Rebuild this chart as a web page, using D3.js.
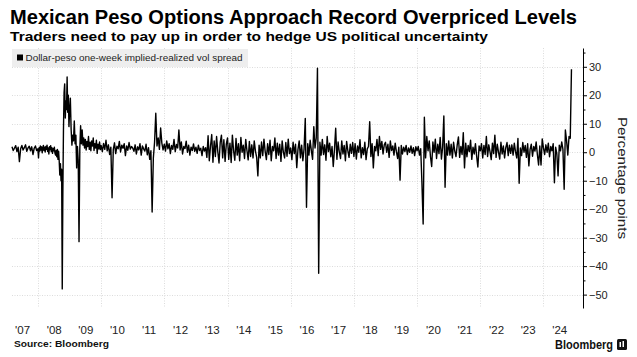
<!DOCTYPE html>
<html><head><meta charset="utf-8">
<script src="https://cdn.jsdelivr.net/npm/d3@7"></script>
<style>
html,body{margin:0;padding:0;background:#fff;}
svg{display:block;}
</style></head><body>
<svg id="chart" width="637" height="357"></svg>
<script>
// ---------------- text ----------------
const titleText = "Mexican Peso Options Approach Record Overpriced Levels";
const subtitleText = "Traders need to pay up in order to hedge US political uncertainty";
const seriesName = "Dollar-peso one-week implied-realized vol spread";
const yAxisTitle = "Percentage points";
const sourceText = "Source: Bloomberg";
const brandText = "Bloomberg";

// ---------------- axes ----------------
const labelYears = [2007,2008,2009,2010,2011,2012,2013,2014,2015,2016,2017,2018,2019,2020,2021,2022,2023,2024];
const yearLabels = ["'07","'08","'09","'10","'11","'12","'13","'14","'15","'16","'17","'18","'19","'20","'21","'22","'23","'24"];
const gridYears = [2008,2010,2012,2014,2016,2018,2020,2022,2024];
const yTicks = [30,20,10,0,-10,-20,-30,-40,-50];
const yMinorTicks = [35,25,15,5,-5,-15,-25,-35,-45];
const xDomainYears = [2007.18, 2025.25];
const yDomain = [-54.7, 36.6];
const firstObs = 2007.18, lastObs = 2024.885;

// ---------------- series values (percentage points), per year ----------------
const v2007 = [1.9,0.6,1.4,2.3,0.2,1.8,-3.3,1.2,2.4,0.8,1.6,2.6,0.3,1.5,2.1,0.5,1.9,-0.8,1.4,2.2,0.6];
const v2008 = [1.2,-2.0,1.6,0.4,2.2,0.8,1.9,-0.2,1.4,2.4,0.6,1.8,0.1,2.0,1.0,2.5,0.3,1.5,-0.6,1.9,0.9,2.3,0.2,1.6,-0.4,1.2,0.5,1.8,-0.3,
  -1.0,0.6,-1.6,1.0,-2.5,0.4,-3.0,-8.0,-4.0,-10.0,-6.0,-48.0,-14.0,8.0,21.0,24.0,12.0,18.0,15.0,26.4,14.0,20.0,9.0];
const v2009 = [14,19,8,2.5,6,4,11,3,6,-5.5,2,-3,-31.4,1,9.3,3,7.8,2.5,5,1.5,4.5,0.8,3.8,2,5.5,1,3.5,0.5,4,2.2,5,0.6,3,1.5,4.2,-0.4,2.8,1.2,3.6,0.9];
const v2010 = [2.4,0.2,3.1,1.0,4.2,0.5,2.6,-0.8,1.8,-16,0.9,3.3,-0.5,2.1,1.2,3.8,0.1,2.5,1.4,3.0,-1.2,2.2,0.7,3.4,1.1,2.0];
const v2011 = [1.5,0.3,2.6,-0.6,1.9,0.8,3.0,-1.0,2.2,1.2,0.4,2.8,-0.9,1.6,-2.5,0.5,-21,-2.0,3.5,13.7,2.2,5.0,1.0,8.5,3.2,0.8];
const v2012 = [2.8,0.4,4.0,1.2,3.0,-0.5,2.4,1.0,4.5,0.2,2.7,1.5,7.8,0.8,3.6,-0.6,2.0,1.3,3.9,0.0,2.5,-1.0,1.8,0.6,2.9,0.3];
const v2013 = [1.8,-0.4,2.5,0.6,1.4,-1.2,2.0,0.4,1.6,-1.8,5.8,-3.0,2.2,6.2,-3.5,4.0,-1.5,5.5,0.2,-3.8,3.5,6.0,-2.0,4.4,-3.2,2.8];
const v2014 = [5.0,-2.5,3.2,-3.6,6.0,0.5,-2.8,4.8,-1.0,3.0,-3.0,5.2,0.0,2.5,-2.2,4.5,0.6,-2.7,3.8,-1.5,2.6,-2.0,4.0,0.4,-1.8,-8.3];
const v2015 = [2.5,-2.0,3.6,-1.2,4.6,0.3,-2.6,3.0,-0.8,4.2,-3.0,2.0,0.5,5.0,-2.2,3.2,-1.0,2.8,-3.2,4.0,0.0,-2.0,3.4,-1.4,4.6,-0.5];
const v2016 = [1.5,-2.6,3.5,-0.5,2.8,-5.4,1.0,4.0,-2.0,2.5,-3.0,1.2,11.9,-19.3,3.0,-1.0,4.2,0.5,-2.5,9.0,1.5,5.0,29.5,-42.5,3.5,-1.0];
const v2017 = [4.5,-0.8,2.6,-2.8,5.5,0.2,3.2,-1.6,2.0,-5.0,1.0,8.4,-2.5,3.6,0.0,-2.2,4.0,-0.6,2.4,-3.0,3.8,0.6,-1.8,2.8,-0.4,3.4];
const v2018 = [-1.5,3.0,-2.4,2.2,0.0,4.4,-2.0,1.6,-0.8,3.5,-2.6,1.2,2.0,10.7,-1.5,3.0,-5.5,2.0,0.5,4.5,-1.2,5.5,1.0,3.8,-0.6,2.6];
const v2019 = [3.5,0.0,2.8,-1.8,4.0,0.6,2.2,-1.0,3.2,0.2,-2.2,1.8,-9.8,2.4,-0.6,1.8,0.2,2.4,-0.8,1.5,0.0,2.2,-0.4,1.6,-1.2,1.9];
const v2020 = [0.5,2.0,-1.0,1.2,-10.8,-25.2,12.3,-2.0,5.5,0.5,4.0,-1.5,-5.0,3.6,0.0,4.6,-2.2,2.8,-0.5,5.2,-2.4,1.8,12.7,-12.3,3.0,-1.0];
const v2021 = [4.0,-1.0,2.8,-2.0,3.5,0.4,-1.5,2.6,5.4,-1.8,2.0,-0.8,6.9,-5.5,3.2,-1.6,2.4,0.2,4.2,-2.5,1.8,-0.6,3.0,-1.4,-5.2,2.2];
const v2022 = [0.5,3.0,-2.0,2.4,-0.8,5.5,-1.5,2.6,0.2,-2.6,3.2,-0.5,6.0,-1.8,2.8,0.0,-2.4,3.5,-0.6,2.2,-2.0,1.6,3.4,-1.2,2.5,-0.4];
const v2023 = [2.6,-1.0,3.2,0.2,-2.0,4.8,-10.9,1.5,-1.2,3.4,0.0,2.4,-1.8,3.0,-4.8,1.0,2.8,-1.4,2.0,0.4,3.6,-0.8,-4.5,2.2,-4.5,4.7];
const v2024 = [1.5,-0.8,2.6,0.0,3.2,-1.6,2.0,0.5,3.0,-10.7,1.8,-0.6,-8.3,2.5,0.5,3.6,1.0,-13.0,7.8,4.0,-1.0,5.5,4.9,29.1];

const seriesByYear = [[2007,v2007],[2008,v2008],[2009,v2009],[2010,v2010],[2011,v2011],[2012,v2012],
  [2013,v2013],[2014,v2014],[2015,v2015],[2016,v2016],[2017,v2017],[2018,v2018],[2019,v2019],
  [2020,v2020],[2021,v2021],[2022,v2022],[2023,v2023],[2024,v2024]];

// ---------------- helpers ----------------
function toDate(t){
  const y = Math.floor(t);
  const a = Date.UTC(y,0,1), b = Date.UTC(y+1,0,1);
  return new Date(a + (t - y) * (b - a));
}
// observation times: evenly spread through each year's sampled span
const data = [];
seriesByYear.forEach(([yr, vals]) => {
  const n = vals.length;
  vals.forEach((v, i) => {
    let t;
    if (yr === 2007) t = firstObs + i * ((2008 - firstObs) / n);
    else if (yr === 2024) t = 2024 + i * ((lastObs - 2024) / (n - 1));
    else t = yr + i / n;
    data.push({date: toDate(t), value: v});
  });
});

const svg = d3.select("#chart");
const FONT = "'Liberation Sans', Arial, sans-serif";

const x = d3.scaleUtc().domain(xDomainYears.map(toDate)).range([12, 583]);
const y = d3.scaleLinear().domain(yDomain).range([308, 48]);

function fit(sel, w){ sel.attr("textLength", w).attr("lengthAdjust", "spacingAndGlyphs"); return sel; }

// title & subtitle
fit(svg.append("text").attr("x", 10).attr("y", 24)
  .attr("font-family", FONT).attr("font-weight", "bold").attr("font-size", 19.5)
  .attr("fill", "#000").text(titleText), 567);
fit(svg.append("text").attr("x", 10).attr("y", 41)
  .attr("font-family", FONT).attr("font-weight", "bold").attr("font-size", 13.5)
  .attr("fill", "#000").text(subtitleText), 478);

// gridlines
const grid = svg.append("g").attr("stroke", "#dcdcdc").attr("stroke-width", 1).attr("stroke-dasharray", "1,1.5");
grid.selectAll("line.h").data(yTicks).join("line")
  .attr("x1", 12).attr("x2", 583)
  .attr("y1", d => Math.round(y(d)) + 0.5).attr("y2", d => Math.round(y(d)) + 0.5);
grid.selectAll("line.v").data(gridYears).join("line")
  .attr("x1", d => Math.round(x(toDate(d))) + 0.5).attr("x2", d => Math.round(x(toDate(d))) + 0.5)
  .attr("y1", 48).attr("y2", 308);

// legend
svg.append("rect").attr("x", 12).attr("y", 49).attr("width", 236).attr("height", 18).attr("fill", "#eeeeee");
svg.append("rect").attr("x", 17).attr("y", 54.5).attr("width", 6).attr("height", 6).attr("fill", "#000");
fit(svg.append("text").attr("x", 25.5).attr("y", 61)
  .attr("font-family", FONT).attr("font-size", 9.5).attr("fill", "#222").text(seriesName), 217);

// line
const line = d3.line().x(d => x(d.date)).y(d => y(d.value));
svg.append("path").datum(data).attr("d", line)
  .attr("fill", "none").attr("stroke", "#000").attr("stroke-width", 1.4).attr("stroke-linejoin", "round");

// right axis
const axisG = svg.append("g").attr("transform", "translate(583,0)");
axisG.call(d3.axisRight(y).tickValues(yTicks).tickSize(4).tickSizeOuter(0).tickPadding(2));
axisG.select(".domain").attr("stroke", "#000");
axisG.selectAll(".tick line").attr("stroke", "#000");
axisG.selectAll(".tick text").attr("font-family", FONT).attr("font-size", 11).attr("fill", "#222");
const minorG = svg.append("g").attr("transform", "translate(583,0)");
minorG.call(d3.axisRight(y).tickValues(yMinorTicks).tickSize(2.5).tickSizeOuter(0).tickFormat(""));
minorG.select(".domain").remove();
minorG.selectAll(".tick line").attr("stroke", "#000");

// y axis title
fit(svg.append("text").attr("transform", "translate(618,178) rotate(90)")
  .attr("text-anchor", "middle").attr("font-family", FONT).attr("font-size", 13)
  .attr("fill", "#222").text(yAxisTitle), 122);

// x labels (centered in each year)
const xAxisG = svg.append("g").attr("transform", "translate(0,331)");
xAxisG.call(d3.axisBottom(x).tickValues(labelYears.map(yy => toDate(yy + 0.5)))
  .tickSize(0).tickPadding(0).tickFormat((d, i) => yearLabels[i]));
xAxisG.select(".domain").remove();
xAxisG.selectAll(".tick text").attr("font-family", FONT).attr("font-size", 11.5).attr("fill", "#222").attr("dy", "0.3em");

// footer
fit(svg.append("text").attr("x", 14).attr("y", 347)
  .attr("font-family", FONT).attr("font-weight", "bold").attr("font-size", 9.5)
  .attr("fill", "#111").text(sourceText), 95);
fit(svg.append("text").attr("x", 555).attr("y", 349)
  .attr("font-family", FONT).attr("font-weight", "bold").attr("font-size", 13.5)
  .attr("fill", "#111").text(brandText), 58);
const logo = svg.append("g").attr("transform", "translate(617,339)");
logo.append("rect").attr("width", 10).attr("height", 11).attr("rx", 1.5).attr("fill", "#111");
logo.append("rect").attr("x", 2.5).attr("y", 3).attr("width", 1.5).attr("height", 5).attr("fill", "#fff");
logo.append("rect").attr("x", 5.5).attr("y", 2).attr("width", 1.5).attr("height", 6).attr("fill", "#fff");
</script>
</body></html>
